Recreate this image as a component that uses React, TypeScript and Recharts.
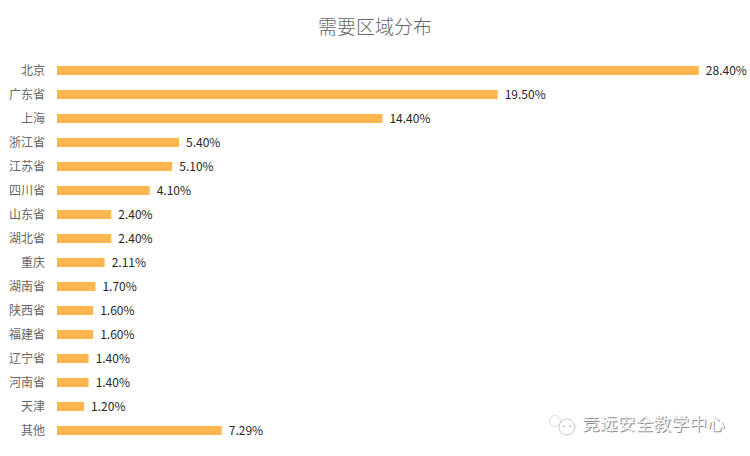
import { BarChart, Bar, XAxis, YAxis, LabelList } from "recharts";

const regions = ["北京", "广东省", "上海", "浙江省", "江苏省", "四川省", "山东省", "湖北省", "重庆", "湖南省", "陕西省", "福建省", "辽宁省", "河南省", "天津", "其他"];
const shares = [28.4, 19.5, 14.4, 5.4, 5.1, 4.1, 2.4, 2.4, 2.11, 1.7, 1.6, 1.6, 1.4, 1.4, 1.2, 7.29];

const data = regions.map((name, i) => ({ name, share: shares[i] }));
const FONT = '"Noto Sans CJK SC", "Noto Sans", sans-serif';

export default function App() {
  return (
    <div style={{ position: "absolute", left: 0, top: 0, width: 750, height: 456, background: "#fff", overflow: "hidden", fontFamily: FONT }}>
      <div style={{ position: "absolute", left: 0, width: 750, top: 13, textAlign: "center", fontSize: 19, lineHeight: "26px", color: "#666", fontWeight: 300 }}>
        需要区域分布
      </div>
      <BarChart width={750} height={456} data={data} layout="vertical" barSize={9} margin={{ top: 58, right: 15, bottom: 14, left: 0 }}>
        <XAxis type="number" domain={[0, 30]} hide />
        <YAxis type="category" dataKey="name" width={57} interval={0} axisLine={false} tickLine={false} tickMargin={6}
          tick={{ fontSize: 12, fill: "#666", fontFamily: FONT, dy: 1 }} />
        <Bar dataKey="share" fill="#ffb64f" isAnimationActive={false}>
          <LabelList dataKey="share" position="right" offset={7} formatter={(v: any) => Number(v).toFixed(2) + "%"}
            style={{ fontSize: 12, fill: "#262626", fontFamily: FONT }} />
        </Bar>
      </BarChart>
      {/* watermark */}
      <svg style={{ position: "absolute", left: 546, top: 410 }} width={32} height={28} fill="none" stroke="#c9c9c9" strokeWidth={1}>
        <circle cx={9} cy={11} r={5.5} strokeDasharray="2 1" />
        <circle cx={21} cy={17} r={8} />
        <circle cx={18} cy={16} r={0.7} />
        <circle cx={24} cy={16} r={0.7} />
      </svg>
      <div style={{ position: "absolute", left: 582, top: 412, fontSize: 17.5, lineHeight: "22px", color: "#f4f4f4", letterSpacing: 0.4, whiteSpace: "nowrap", textShadow: "1px 1px 0 #8f8f8f" }}>
        竞远安全教学中心
      </div>
    </div>
  );
}
